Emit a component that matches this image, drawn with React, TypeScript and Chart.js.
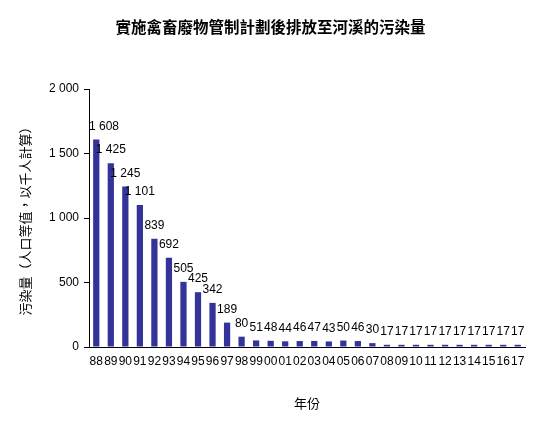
import React, { useEffect, useRef } from 'react';
import { Chart, registerables } from 'chart.js';

Chart.register(...registerables);

const years = [
  '88', '89', '90', '91', '92', '93', '94', '95', '96', '97', '98', '99',
  '00', '01', '02', '03', '04', '05', '06', '07', '08', '09', '10', '11',
  '12', '13', '14', '15', '16', '17',
];

const pollution = [
  1608, 1425, 1245, 1101, 839, 692, 505, 425, 342, 189, 80, 51,
  48, 44, 46, 47, 43, 50, 46, 30, 17, 17, 17, 17,
  17, 17, 17, 17, 17, 17,
];

const chartTitle = '實施禽畜廢物管制計劃後排放至河溪的污染量';
const yTitle = '污染量（人口等值，以千人計算）';
const xTitle = '年份';

const latin = '"Liberation Sans", Arial, sans-serif';
const cjk = '"Noto Sans CJK TC", "Noto Sans CJK SC", sans-serif';

const fmt = (n: number) => String(n).replace(/\B(?=(\d{3})+(?!\d))/g, ' ');

// title drawn by hand so it centres on the whole canvas
const titlePlugin = {
  id: 'canvasTitle',
  afterDraw(chart: any) {
    const { ctx, width } = chart;
    ctx.save();
    ctx.font = `bold 15.5px ${cjk}`;
    ctx.fillStyle = '#000';
    ctx.textAlign = 'center';
    ctx.textBaseline = 'middle';
    ctx.fillText(chartTitle, width / 2, 27);
    ctx.restore();
  },
};

// value labels above each bar
const barLabels = {
  id: 'barLabels',
  afterDatasetsDraw(chart: any) {
    const { ctx, chartArea } = chart;
    const meta = chart.getDatasetMeta(0);
    ctx.save();
    ctx.font = `12px ${latin}`;
    ctx.fillStyle = '#000';
    ctx.textBaseline = 'middle';
    ctx.textAlign = 'left';
    meta.data.forEach((bar: any, i: number) => {
      const text = fmt(pollution[i]);
      const w = ctx.measureText(text).width;
      const left = Math.max(bar.x - w / 2, chartArea.left);
      ctx.fillText(text, left, bar.y - 13);
    });
    ctx.restore();
  },
};

export default function App() {
  const canvasRef = useRef<HTMLCanvasElement>(null);
  const chartRef = useRef<Chart | null>(null);

  useEffect(() => {
    document.body.style.margin = '0';
    if (!canvasRef.current) return;
    const ctx = canvasRef.current.getContext('2d');
    if (!ctx) return;

    chartRef.current = new Chart(ctx, {
      type: 'bar',
      data: {
        labels: years,
        datasets: [
          {
            data: pollution,
            backgroundColor: '#333399',
            barPercentage: 0.43,
            categoryPercentage: 1,
          },
        ],
      },
      options: {
        animation: false,
        responsive: true,
        maintainAspectRatio: false,
        layout: { padding: { top: 89, right: 16, left: 0, bottom: 0 } },
        plugins: {
          legend: { display: false },
          title: { display: false },
          tooltip: { enabled: false },
        },
        scales: {
          x: {
            grid: { display: false, drawTicks: false },
            border: { display: true, color: '#000', width: 1 },
            ticks: {
              color: '#000',
              font: { family: latin, size: 12 },
              autoSkip: false,
              maxRotation: 0,
              minRotation: 0,
              padding: 7,
            },
            title: {
              display: true,
              text: xTitle,
              color: '#000',
              font: { family: cjk, size: 13 },
              padding: { top: 0, bottom: 26 },
            },
            afterFit: (scale: any) => {
              scale.height = 90;
            },
          },
          y: {
            min: 0,
            max: 2000,
            grid: {
              display: true,
              drawOnChartArea: false,
              drawTicks: true,
              tickLength: 5,
              color: '#000',
            },
            border: { display: true, color: '#000', width: 1 },
            ticks: {
              stepSize: 500,
              color: '#000',
              font: { family: latin, size: 12 },
              padding: 5,
              callback: (v: any) => fmt(Number(v)),
            },
            title: {
              display: true,
              text: yTitle,
              color: '#000',
              font: { family: cjk, size: 13 },
              padding: { top: 17, bottom: 0 },
            },
            afterFit: (scale: any) => {
              scale.width = 89;
            },
          },
        },
      },
      plugins: [titlePlugin, barLabels],
    });

    return () => {
      if (chartRef.current) {
        chartRef.current.destroy();
        chartRef.current = null;
      }
    };
  }, []);

  return (
    <div style={{ width: '541px', height: '437px', position: 'relative', background: '#fff' }}>
      <canvas ref={canvasRef} />
    </div>
  );
}
